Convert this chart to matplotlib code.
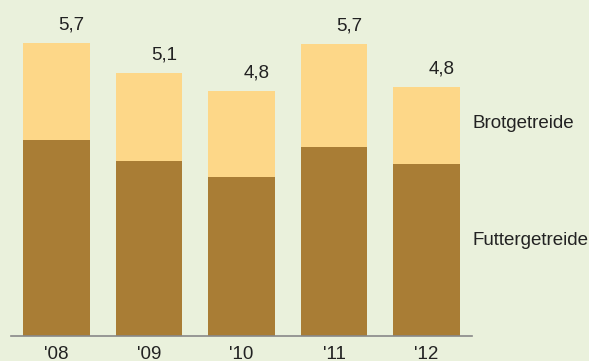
import matplotlib
matplotlib.use('Agg')
import matplotlib.pyplot as plt
import numpy as np

plt.rcParams['font.family'] = ['Liberation Sans', 'DejaVu Sans']

years = ["'08", "'09", "'10", "'11", "'12"]
futter = [3.81, 3.40, 3.09, 3.68, 3.35]
brot = [1.89, 1.72, 1.68, 2.00, 1.50]
totals = ['5,7', '5,1', '4,8', '5,7', '4,8']

bg = '#eaf1dc'
brown = '#a97d35'
yellow = '#fdd788'
text_col = '#222222'
fs = 13.5

fig = plt.figure(figsize=(5.89, 3.61), dpi=100, facecolor=bg)
ax = fig.add_axes([11 / 589, 25.5 / 361, 461 / 589, 333.5 / 361])
ax.set_facecolor(bg)

x = np.arange(len(years))
ax.bar(x, futter, width=0.724, color=brown)
ax.bar(x, brot, width=0.724, bottom=futter, color=yellow)

for i in range(len(years)):
    ax.annotate(totals[i], xy=(x[i], futter[i] + brot[i]), xytext=(15, 18),
                textcoords='offset pixels', ha='center', va='center',
                fontsize=fs, color=text_col)

ax.set_xlim(-0.492, 4.492)
ax.set_ylim(0, 6.5)
ax.set_xticks(x)
ax.set_xticklabels(years, fontsize=fs, color=text_col)
ax.tick_params(axis='x', length=0, pad=7.5)
ax.set_yticks([])
for side in ['top', 'right', 'left']:
    ax.spines[side].set_visible(False)
ax.spines['bottom'].set_color('#888888')
ax.spines['bottom'].set_linewidth(1.2)

# series labels on the right
fig.text(473 / 589, 1 - 128 / 361, 'Brotgetreide', fontsize=fs, color=text_col,
         va='baseline', ha='left')
fig.text(473 / 589, 1 - 245 / 361, 'Futtergetreide', fontsize=fs, color=text_col,
         va='baseline', ha='left')

fig.savefig('out.png', dpi=100, facecolor=bg)
